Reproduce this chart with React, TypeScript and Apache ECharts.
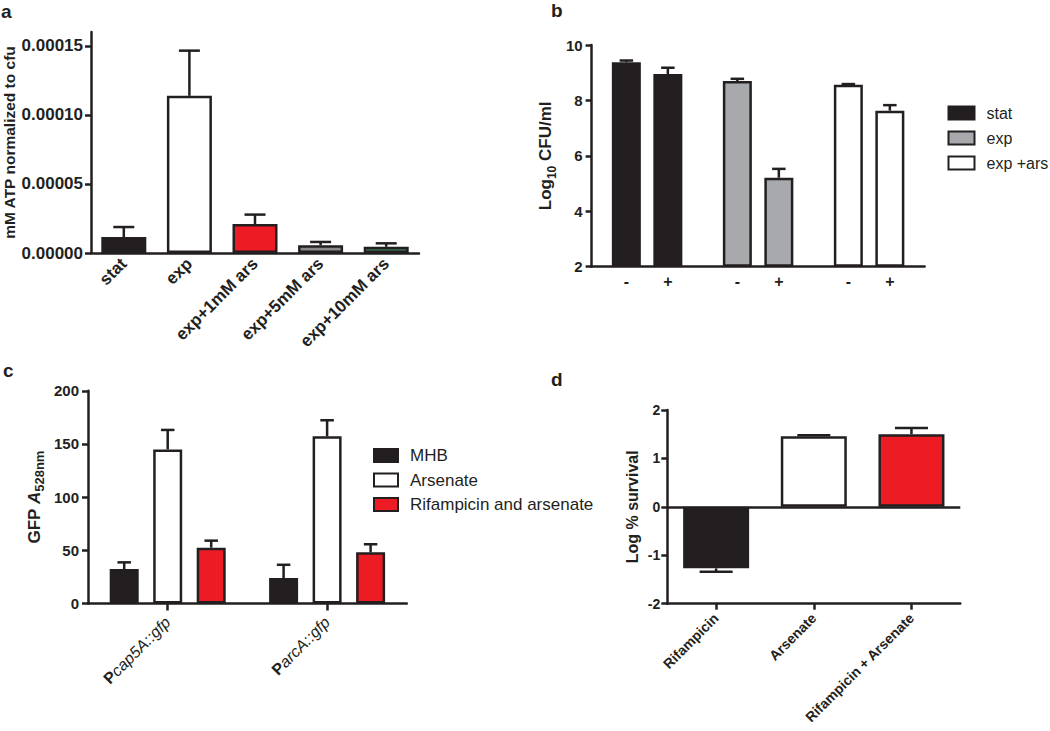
import React, { useEffect, useRef } from 'react';
import * as echarts from 'echarts';

const INK = '#231f20';
const RED = '#ed1c24';
const WHITE = '#ffffff';
const FONT = 'Liberation Sans, Arial, Helvetica, sans-serif';
const LW = 2.5;

// ---------- Panel a ----------
const aCategories = ['stat', 'exp', 'exp+1mM ars', 'exp+5mM ars', 'exp+10mM ars'];
const aValues = [0.0000115, 0.0001138, 0.000021, 0.0000056, 0.0000045];
const aErrors = [0.0000073, 0.0000327, 0.0000068, 0.0000024, 0.0000025];
const aColors = [INK, WHITE, RED, '#8a8a8a', '#3d7a58'];
const aTicks = [0, 0.00005, 0.0001, 0.00015];

// ---------- Panel b ----------
const bGroups = ['stat', 'exp', 'exp +ars'];
const bSigns = ['-', '+'];
const bMinus = [9.38, 8.7, 8.57];
const bMinusErr = [0.06, 0.08, 0.02];
const bPlus = [8.95, 5.21, 7.63];
const bPlusErr = [0.23, 0.32, 0.2];
const bColors = [INK, '#a7a9ac', WHITE];

// ---------- Panel c ----------
const cCategories = ['Pcap5A::gfp', 'ParcA::gfp'];
const cSeriesNames = ['MHB', 'Arsenate', 'Rifampicin and arsenate'];
const cValues = [
  [32.4, 23.9],
  [144.9, 157.2],
  [52.5, 48.1],
];
const cErrors = [
  [6.3, 12.5],
  [18.3, 15.1],
  [6.6, 7.6],
];
const cColors = [INK, WHITE, RED];

// ---------- Panel d ----------
const dCategories = ['Rifampicin', 'Arsenate', 'Rifampicin + Arsenate'];
const dValues = [-1.27, 1.46, 1.5];
const dErrors = [0.07, 0.02, 0.13];
const dColors = [INK, WHITE, RED];

function errorSeries(grid: number, values: number[], errors: number[], offset: number, cap: number) {
  return {
    type: 'custom',
    name: 'err' + grid + '_' + offset,
    xAxisIndex: grid,
    yAxisIndex: grid,
    silent: true,
    z: 3,
    clip: false,
    data: values.map((v, i) => [i, v, v >= 0 ? v + errors[i] : v - errors[i]]),
    renderItem: (_p: any, api: any) => {
      const base = api.coord([api.value(0), api.value(1)]);
      const tip = api.coord([api.value(0), api.value(2)]);
      const x = base[0] + offset;
      const st = { stroke: INK, lineWidth: LW };
      return {
        type: 'group',
        children: [
          { type: 'line', shape: { x1: x, y1: base[1], x2: x, y2: tip[1] }, style: st },
          { type: 'line', shape: { x1: x - cap / 2, y1: tip[1], x2: x + cap / 2, y2: tip[1] }, style: st },
        ],
      };
    },
  };
}

function axisLineStyle() {
  return { show: true, onZero: false, lineStyle: { color: INK, width: LW } };
}
function tickStyle(len: number, align = false) {
  return { show: true, length: len, alignWithLabel: align, lineStyle: { color: INK, width: LW } };
}

const bBarW = 29;
const bGap = 12.5;
const cBarW = 29;
const cGap = 14.5;

function buildOption(): any {
  const grids = [
    { left: 88, top: 32, width: 331, height: 221 },
    { left: 591.6, top: 45, width: 333, height: 221.7 },
    { left: 88, top: 390.8, width: 318.8, height: 212.7 },
    { left: 667.3, top: 410, width: 293, height: 193.7 },
  ];

  const xAxis = [
    {
      type: 'category', gridIndex: 0, data: aCategories,
      axisLine: axisLineStyle(), axisTick: { show: false },
      axisLabel: { interval: 0, rotate: 45, margin: 8, color: INK, fontWeight: 'bold', fontSize: 17, fontFamily: FONT },
    },
    {
      type: 'category', gridIndex: 1, data: bGroups,
      axisLine: axisLineStyle(), axisTick: { show: false },
      axisLabel: {
        interval: 0, margin: 7,
        formatter: () => `{m|${bSigns[0]}}{p|${bSigns[1]}}`,
        rich: {
          m: { width: bBarW + bGap, align: 'center', fontWeight: 'bold', fontSize: 16, color: INK, fontFamily: FONT },
          p: { width: bBarW + bGap, align: 'center', fontWeight: 'bold', fontSize: 16, color: INK, fontFamily: FONT },
        },
      },
    },
    {
      type: 'category', gridIndex: 2, data: cCategories,
      axisLine: axisLineStyle(), axisTick: tickStyle(7, true),
      axisLabel: {
        interval: 0, rotate: 45, margin: 16,
        formatter: (v: string) => `{p|${v.slice(0, 1)}}{i|${v.slice(1)}}`,
        rich: {
          p: { fontWeight: 'bold', fontSize: 16, color: INK, fontFamily: FONT },
          i: { fontStyle: 'italic', fontSize: 16, color: INK, fontFamily: FONT },
        },
      },
    },
    {
      type: 'category', gridIndex: 3, data: dCategories, position: 'bottom',
      axisLine: axisLineStyle(), axisTick: tickStyle(6, true),
      axisLabel: { interval: 0, rotate: 45, margin: 12, color: INK, fontWeight: 'bold', fontSize: 14, fontFamily: FONT },
    },
  ];

  const yAxis = [
    {
      type: 'value', gridIndex: 0, min: 0, max: 0.00016,
      axisLine: axisLineStyle(),
      axisTick: { ...tickStyle(6), customValues: aTicks },
      axisLabel: {
        customValues: aTicks, margin: 8, color: INK, fontWeight: 'bold', fontSize: 17, fontFamily: FONT,
        formatter: (v: number) => v.toFixed(5),
      },
      splitLine: { show: false },
      name: 'mM ATP normalized to cfu', nameLocation: 'middle', nameRotate: 90, nameGap: 74,
      nameTextStyle: { color: INK, fontWeight: 'bold', fontSize: 15.5, fontFamily: FONT },
    },
    {
      type: 'value', gridIndex: 1, min: 2, max: 10, interval: 2, startValue: 2,
      axisLine: axisLineStyle(), axisTick: tickStyle(6),
      axisLabel: { margin: 9, color: INK, fontWeight: 'bold', fontSize: 15, fontFamily: FONT },
      splitLine: { show: false },
      name: '{n|Log}{s|10}{n| CFU/ml}', nameLocation: 'middle', nameRotate: 90, nameGap: 34,
      nameTextStyle: {
        rich: {
          n: { color: INK, fontWeight: 'bold', fontSize: 17, fontFamily: FONT, lineHeight: 24 },
          s: { color: INK, fontWeight: 'bold', fontSize: 12, fontFamily: FONT, verticalAlign: 'bottom' },
        },
      },
    },
    {
      type: 'value', gridIndex: 2, min: 0, max: 200, interval: 50,
      axisLine: axisLineStyle(), axisTick: tickStyle(6),
      axisLabel: { margin: 9, color: INK, fontWeight: 'bold', fontSize: 15, fontFamily: FONT },
      splitLine: { show: false },
      name: '{n|GFP }{a|A}{s|528nm}', nameLocation: 'middle', nameRotate: 90, nameGap: 42,
      nameTextStyle: {
        rich: {
          n: { color: INK, fontWeight: 'bold', fontSize: 17, fontFamily: FONT, lineHeight: 24 },
          a: { color: INK, fontWeight: 'bold', fontStyle: 'italic', fontSize: 17, fontFamily: FONT, lineHeight: 24 },
          s: { color: INK, fontWeight: 'bold', fontSize: 13, fontFamily: FONT, verticalAlign: 'bottom' },
        },
      },
    },
    {
      type: 'value', gridIndex: 3, min: -2, max: 2, interval: 1,
      axisLine: axisLineStyle(), axisTick: tickStyle(6),
      axisLabel: { margin: 7, color: INK, fontWeight: 'bold', fontSize: 14, fontFamily: FONT },
      splitLine: { show: false },
      name: 'Log % survival', nameLocation: 'middle', nameRotate: 90, nameGap: 27,
      nameTextStyle: { color: INK, fontWeight: 'bold', fontSize: 16, fontFamily: FONT },
    },
  ];

  const barBorder = { borderColor: INK, borderWidth: LW };
  const series: any[] = [];

  // a
  series.push({
    type: 'bar', name: 'ATP', xAxisIndex: 0, yAxisIndex: 0, barWidth: 45, z: 2,
    itemStyle: barBorder,
    data: aValues.map((v, i) => ({ value: v, itemStyle: { color: aColors[i] } })),
  });
  series.push(errorSeries(0, aValues, aErrors, 0, 21));

  // b
  const bStep = bBarW + bGap;
  series.push({
    type: 'bar', name: 'minus', xAxisIndex: 1, yAxisIndex: 1, barWidth: bBarW, barGap: `${(bGap / bBarW) * 100}%`, z: 2,
    itemStyle: barBorder,
    data: bMinus.map((v, i) => ({ value: v, itemStyle: { color: bColors[i] } })),
  });
  series.push({
    type: 'bar', name: 'plus', xAxisIndex: 1, yAxisIndex: 1, barWidth: bBarW, barGap: `${(bGap / bBarW) * 100}%`, z: 2,
    itemStyle: barBorder,
    data: bPlus.map((v, i) => ({ value: v, itemStyle: { color: bColors[i] } })),
  });
  series.push(errorSeries(1, bMinus, bMinusErr, -bStep / 2, 13.5));
  series.push(errorSeries(1, bPlus, bPlusErr, bStep / 2, 13.5));
  bGroups.forEach((g, i) => {
    series.push({
      type: 'line', name: g, xAxisIndex: 1, yAxisIndex: 1, data: [],
      color: bColors[i], itemStyle: { color: bColors[i] }, lineStyle: { color: bColors[i] },
    });
  });

  // c
  const cStep = cBarW + cGap;
  cSeriesNames.forEach((name, s) => {
    series.push({
      type: 'bar', name, xAxisIndex: 2, yAxisIndex: 2, barWidth: cBarW, barGap: `${(cGap / cBarW) * 100}%`, z: 2,
      itemStyle: { ...barBorder, color: cColors[s] },
      data: cValues[s],
    });
  });
  cSeriesNames.forEach((_n, s) => {
    series.push(errorSeries(2, cValues[s], cErrors[s], (s - 1) * cStep, 13.5));
  });

  // d
  series.push({
    type: 'bar', name: 'survival', xAxisIndex: 3, yAxisIndex: 3, barWidth: 66, z: 2,
    itemStyle: barBorder,
    data: dValues.map((v, i) => ({ value: v, itemStyle: { color: dColors[i] } })),
    markLine: {
      silent: true, symbol: ['none', 'none'], label: { show: false },
      lineStyle: { color: INK, width: LW, type: 'solid' },
      data: [{ yAxis: 0 }],
    },
  });
  series.push(errorSeries(3, dValues, dErrors, 0, 33));

  const legendText = (size: number) => ({ color: INK, fontSize: size, fontFamily: FONT, padding: [0, 0, 0, 7] });
  const legend = [
    {
      data: bGroups, orient: 'vertical', left: 942.5, top: 100, icon: 'rect',
      itemWidth: 26, itemHeight: 13, itemGap: 9, selectedMode: false,
      itemStyle: { borderColor: INK, borderWidth: 2 },
      textStyle: legendText(16),
    },
    {
      data: cSeriesNames, orient: 'vertical', left: 368, top: 442, icon: 'rect',
      itemWidth: 24, itemHeight: 13, itemGap: 7.5, selectedMode: false,
      itemStyle: { borderColor: INK, borderWidth: 2 },
      textStyle: legendText(17),
    },
  ];

  const letter = (t: string, x: number, y: number) => ({
    type: 'text', x, y,
    style: { text: t, fill: INK, font: `bold 19px ${FONT}`, textAlign: 'left', textVerticalAlign: 'middle' },
  });

  return {
    animation: false,
    backgroundColor: '#ffffff',
    textStyle: { fontFamily: FONT },
    grid: grids,
    xAxis,
    yAxis,
    series,
    legend,
    graphic: [letter('a', 1, 11), letter('b', 551, 10.5), letter('c', 3, 370.4), letter('d', 551, 379.4)],
  };
}

export default function App() {
  const ref = useRef<HTMLDivElement>(null);
  useEffect(() => {
    if (!ref.current) return;
    const chart = echarts.init(ref.current, null, { renderer: 'svg' });
    chart.setOption(buildOption());
    return () => chart.dispose();
  }, []);
  return (
    <div
      ref={ref}
      style={{ position: 'absolute', left: 0, top: 0, width: 1050, height: 731, background: '#ffffff' }}
    />
  );
}
